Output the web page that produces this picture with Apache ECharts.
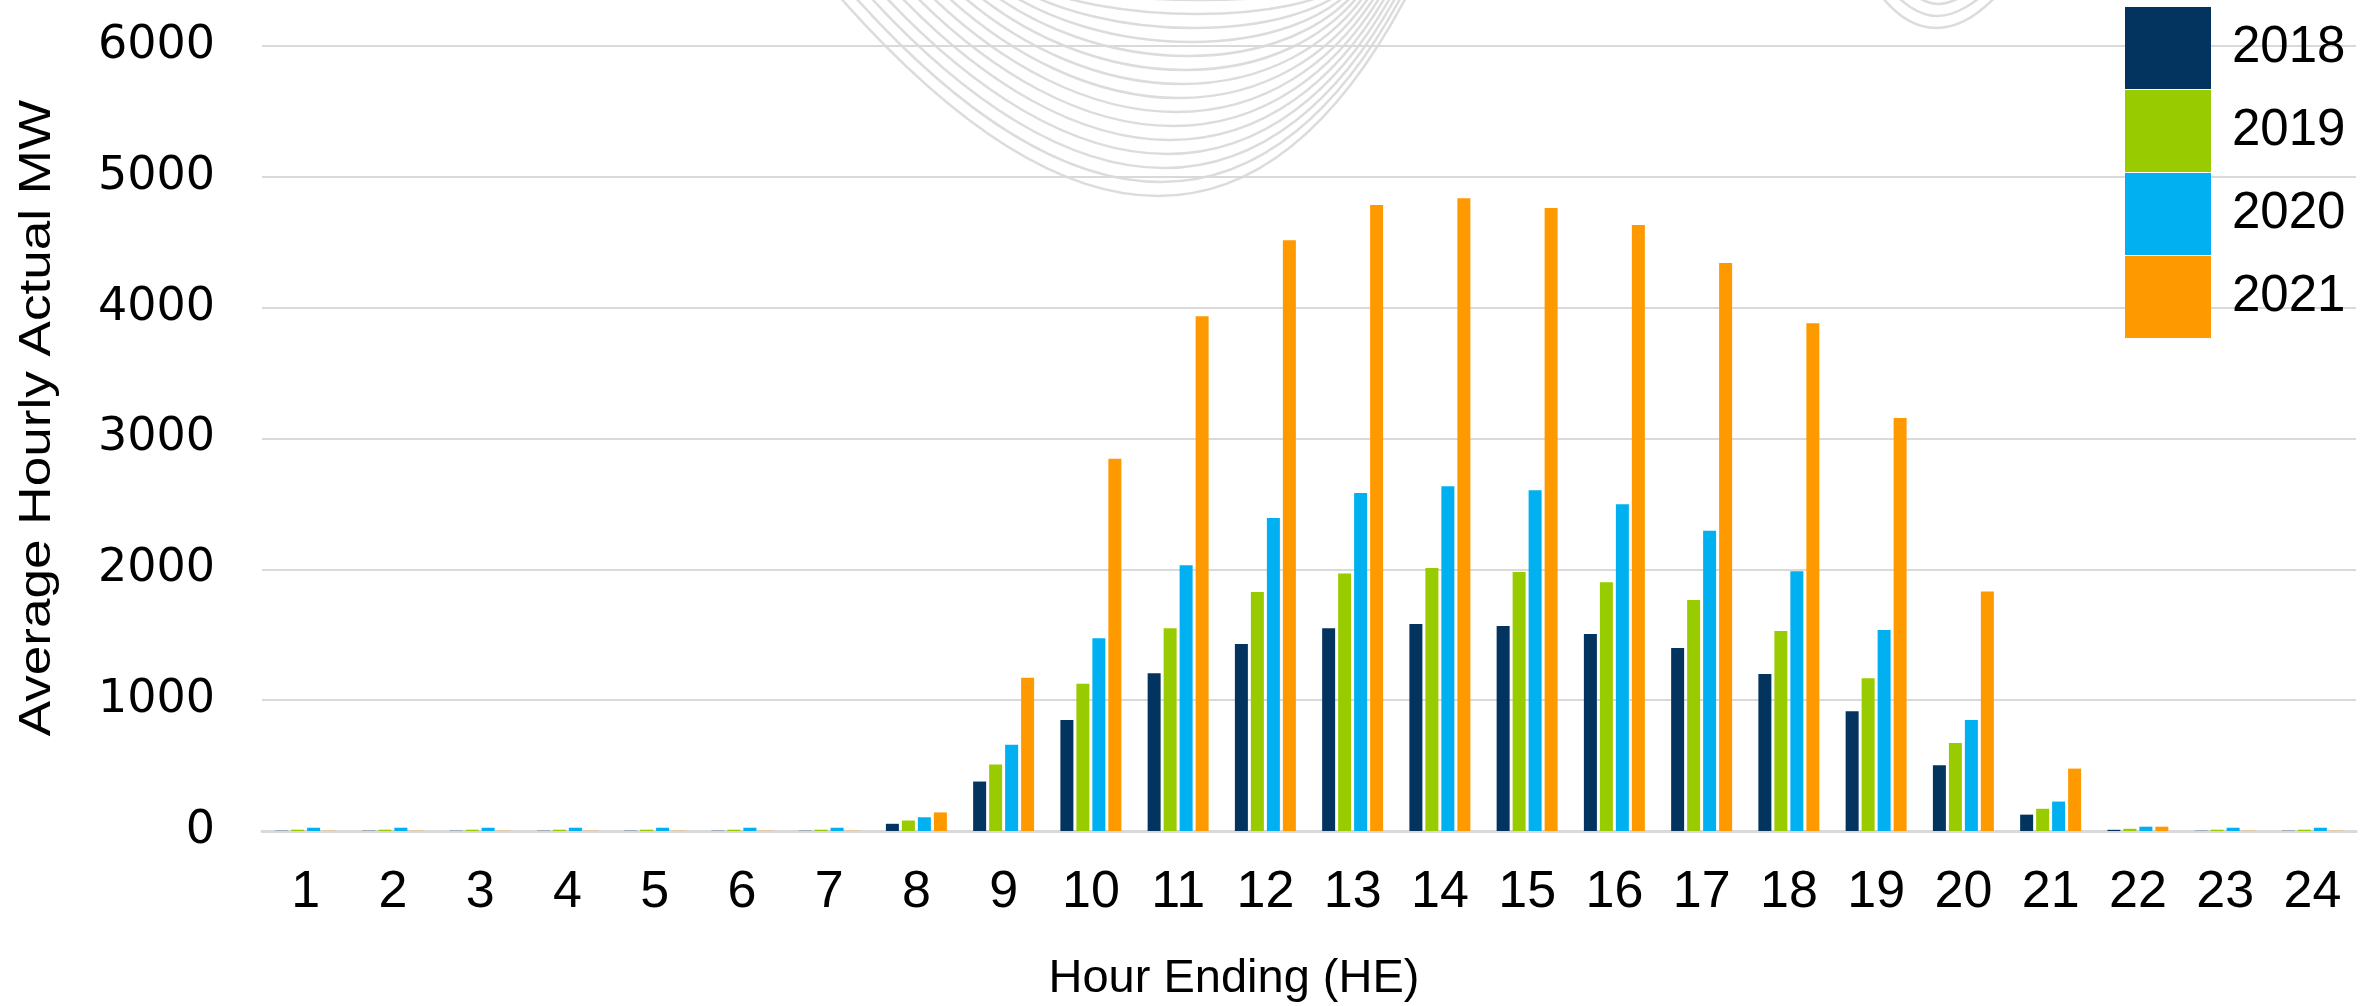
<!DOCTYPE html>
<html>
<head>
<meta charset="utf-8">
<script src="https://cdn.jsdelivr.net/npm/echarts@6/dist/echarts.min.js"></script>
<style>
  html, body { margin: 0; padding: 0; background: #fff; }
  #chart { width: 2379px; height: 1006px; }
</style>
</head>
<body>
<div id="chart"></div>
<script>
// hour ending categories
var hours = ['1','2','3','4','5','6','7','8','9','10','11','12','13','14','15','16','17','18','19','20','21','22','23','24'];
var years = ['2018', '2019', '2020', '2021'];

// average hourly actual MW
var mw2018 = [2, 2, 2, 2, 2, 2, 2, 55, 378, 848, 1205, 1430, 1550, 1582, 1567, 1505, 1398, 1200, 915, 502, 125, 9, 2, 2];
var mw2019 = [10, 10, 10, 10, 10, 10, 10, 80, 508, 1125, 1549, 1826, 1969, 2010, 1980, 1901, 1765, 1529, 1167, 672, 170, 17, 10, 10];
var mw2020 = [25, 25, 25, 25, 25, 25, 25, 105, 660, 1474, 2031, 2392, 2584, 2635, 2604, 2498, 2294, 1986, 1536, 848, 225, 33, 25, 25];
var mw2021 = [2, 2, 2, 2, 2, 2, 2, 142, 1172, 2846, 3935, 4515, 4785, 4836, 4761, 4631, 4341, 3881, 3157, 1831, 477, 33, 2, 2];

var colors = ['#03335f', '#99cc00', '#00b0f0', '#ff9900'];

/**
 * light grey swoosh in the background (decoration only)
 */
function swoosh() {
    var arcs = [];
    var y0 = -20;
    for (var i = 0; i < 15; i++) {
        var x1 = 825 + 15 * i, x2 = 1415 - 5 * i;
        var by = 196 - 14 * i, bx = 1158 + 3 * i;
        var cy = (8 * by - 2 * y0) / 6;
        var s = (8 * bx - x1 - x2) / 3;
        arcs.push({
            type: 'bezierCurve',
            silent: true,
            shape: {x1: x1, y1: y0, cpx1: s / 2 - 100, cpy1: cy, cpx2: s / 2 + 100, cpy2: cy, x2: x2, y2: y0},
            style: {stroke: '#dcdcdc', lineWidth: 2.5, fill: null}
        });
    }
    for (var j = 0; j < 3; j++) {
        var a = 1870 + 12 * j, b = 2010 - 10 * j, d = 28 - 12 * j;
        arcs.push({
            type: 'bezierCurve',
            silent: true,
            shape: {x1: a, y1: y0, cpx1: a + 40, cpy1: (8 * d + 40) / 6, cpx2: b - 50, cpy2: (8 * d + 40) / 6, x2: b, y2: y0},
            style: {stroke: '#dcdcdc', lineWidth: 2.5, fill: null}
        });
    }
    return arcs;
}

var dom = document.getElementById('chart');
var myChart = echarts.init(dom, null, {renderer: 'canvas'});

var seriesData = [mw2018, mw2019, mw2020, mw2021];
var series = years.map(function (y, i) {
    return {
        name: y,
        type: 'bar',
        data: seriesData[i],
        barWidth: 13,
        barGap: '23%',
        itemStyle: {color: colors[i]}
    };
});

var option = {
    animation: false,
    backgroundColor: '#fff',
    textStyle: {fontFamily: 'Liberation Sans, Arial, sans-serif'},
    grid: {
        left: 262,
        right: 23,
        top: 46,
        bottom: 175
    },
    legend: {
        data: years,
        orient: 'vertical',
        left: 2125,
        top: 7,
        padding: 0,
        icon: 'rect',
        itemWidth: 86,
        itemHeight: 82,
        itemGap: 1,
        textStyle: {
            fontSize: 51,
            color: '#000',
            padding: [0, 0, 0, 16]
        }
    },
    xAxis: {
        type: 'category',
        data: hours,
        axisTick: {show: false},
        axisLine: {lineStyle: {color: '#d9d9d9', width: 3}},
        axisLabel: {
            fontSize: 52,
            color: '#000',
            margin: 36
        }
    },
    yAxis: {
        type: 'value',
        min: 0,
        max: 6000,
        interval: 1000,
        axisLine: {show: false},
        axisTick: {show: false},
        splitLine: {lineStyle: {color: '#d9d9d9', width: 2}},
        axisLabel: {
            fontSize: 46,
            fontFamily: 'DejaVu Sans, sans-serif',
            color: '#000',
            margin: 47,
            formatter: function (v) { return String(v); }
        }
    },
    graphic: swoosh().concat([
        {
            type: 'text',
            x: 38,
            y: 418,
            rotation: Math.PI / 2,
            scaleX: 1.18,
            style: {
                text: 'Average Hourly Actual MW',
                font: '45px "Liberation Sans", sans-serif',
                fill: '#000',
                align: 'center',
                verticalAlign: 'middle'
            }
        },
        {
            type: 'text',
            x: 1234,
            y: 979,
            style: {
                text: 'Hour Ending (HE)',
                font: '47px "Liberation Sans", sans-serif',
                fill: '#000',
                align: 'center',
                verticalAlign: 'middle'
            }
        }
    ]),
    series: series
};

myChart.setOption(option, true);
window.addEventListener('resize', function () {
    myChart.resize();
});
</script>
</body>
</html>
